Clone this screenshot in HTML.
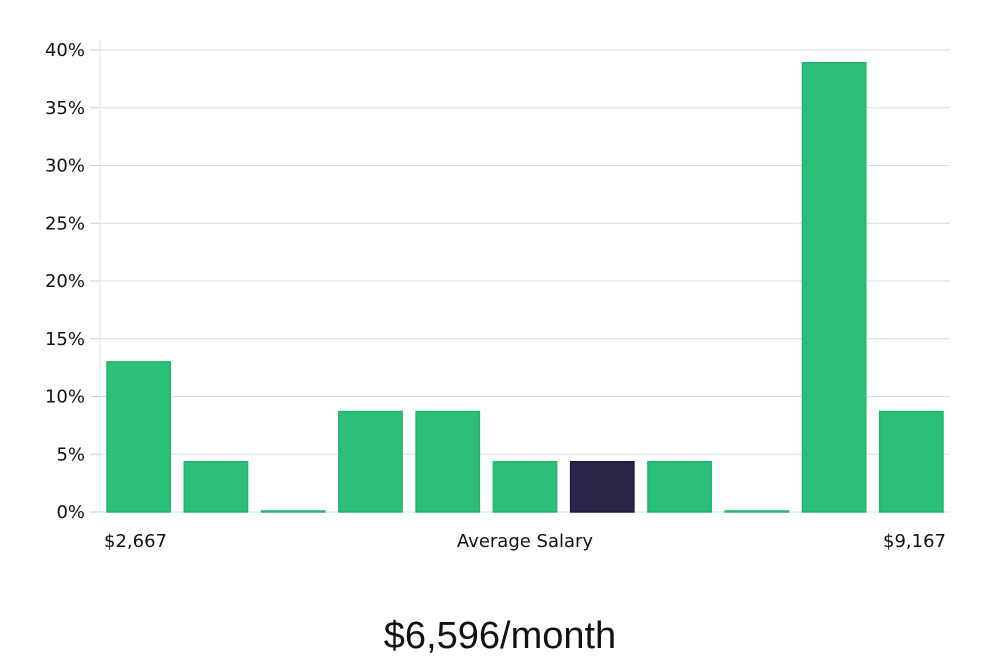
<!DOCTYPE html>
<html><head><meta charset="utf-8"><style>
body{margin:0;background:#fff;width:1000px;height:660px;overflow:hidden;font-family:"DejaVu Sans","Liberation Sans",sans-serif}
</style></head><body>
<svg id="chart" width="1000" height="660" xmlns="http://www.w3.org/2000/svg"></svg>
<script>
const categories=["b1","b2","b3","b4","b5","b6","b7","b8","b9","b10","b11"];
const values=[13,4.35,0,8.7,8.7,4.35,4.35,4.35,0,38.9,8.7];
const highlight=[false,false,false,false,false,false,true,false,false,false,false];
const yTicks=[0,5,10,15,20,25,30,35,40];
const svg=document.getElementById('chart');
const NS='http://www.w3.org/2000/svg';
const x0=100,x1=950,y0=512,y1=50,yMax=40;
const y=v=>y0-(v/yMax)*(y0-y1);
const slot=(x1-x0)/categories.length;
const xb=i=>x0+i*slot;
function mk(t,a){const e=document.createElementNS(NS,t);for(const k in a)e.setAttribute(k,a[k]);svg.appendChild(e);return e;}
yTicks.forEach(t=>{
  const g=mk('line',{x1:x0,x2:x1,y1:y(t),y2:y(t),stroke:'#dcdcdc','stroke-width':1});
  
  
  const tk=mk('line',{x1:x0-10,x2:x0,y1:y(t),y2:y(t),stroke:'#ccc'});
  
  
  const l=mk('text',{x:85,y:y(t)+6,'text-anchor':'end','font-size':18,fill:'#111'});
  l.textContent=t+'%';
  
  
});
const ax=mk('line',{x1:x0,x2:x0,y1:40,y2:y0,stroke:'#e0e0e0'});


values.forEach((v,i)=>{
  const h=Math.max(y0-y(v),1);
  const r=mk('rect',{x:xb(i)+7,y:y0-h,width:slot-14,height:h,fill:highlight[i]?'#2a2547':'#2bbf77',stroke:highlight[i]?'#1c1840':'#22b56d','stroke-width':1.5});
  
  
});
function txt(s,x,yy,anchor,size,name,extra){const t=mk('text',Object.assign({x:x,y:yy,'text-anchor':anchor,'font-size':size,fill:'#111'},extra||{}));t.textContent=s;return t;}
txt('$2,667',104,547,'start',18,'x-min-label');
txt('Average Salary',525,547,'middle',18,'x-axis-title');
txt('$9,167',946,547,'end',18,'x-max-label');
txt('$6,596/month',500,648,'middle',38,'average-salary-value',{'font-family':'"Liberation Sans",sans-serif','font-weight':'300'});
</script>
</body></html>
